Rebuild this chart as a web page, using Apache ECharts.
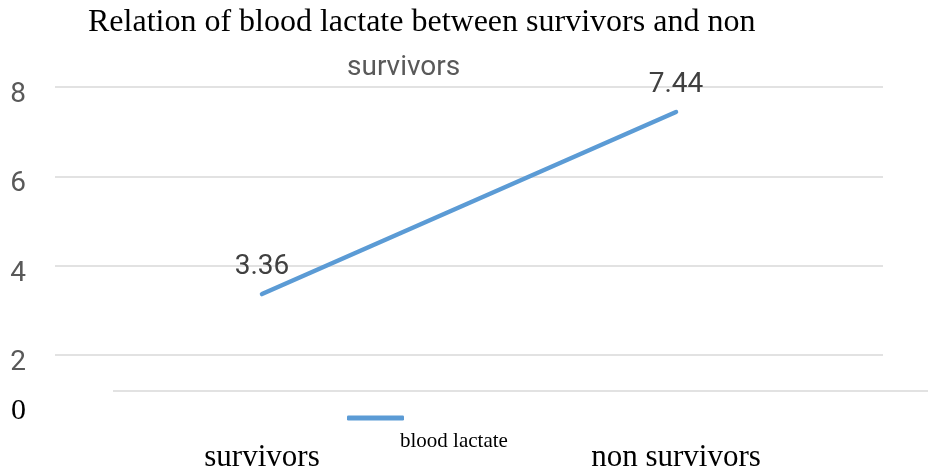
<!DOCTYPE html>
<html>
<head>
<meta charset="utf-8">
<script src="https://cdn.jsdelivr.net/npm/echarts@6/dist/echarts.min.js"></script>
<style>
  html, body { margin: 0; padding: 0; background: #fff; }
  #chart { width: 928px; height: 470px; }
</style>
</head>
<body>
<div id="chart"></div>
<script>
// values
const categories = ["survivors", "non survivors"];
const bloodLactate = [3.36, 7.44];
const seriesName = "blood lactate";

const serif = '"Liberation Serif", "Times New Roman", serif';
const sans = 'Roboto, "Open Sans", sans-serif';

const chart = echarts.init(document.getElementById("chart"));

chart.setOption({
  animation: false,
  title: [
    {
      text: "Relation of blood lactate between survivors and non",
      left: 88,
      top: 7,
      padding: 0,
      textStyle: { fontFamily: serif, fontSize: 32, fontWeight: "normal", color: "#000" },
    },
    {
      text: "survivors",
      left: 347,
      top: 54,
      padding: 0,
      textStyle: { fontFamily: sans, fontSize: 28, fontWeight: "normal", color: "#595959" },
    },
  ],
  legend: {
    data: [seriesName],
    left: 347,
    top: 372,
    padding: 0,
    icon: "roundRect",
    itemWidth: 57,
    itemHeight: 5,
    // text sits under the swatch in the original, so push it down a line
    formatter: (name) => "\n" + name,
    textStyle: { fontFamily: serif, fontSize: 21, lineHeight: 46, color: "#000", padding: [0, 0, 0, -9] },
  },
  // labels run off the bottom edge in the original, don't let the grid shrink for them
  grid: { left: 55, right: 45, top: 87, bottom: 26, outerBoundsMode: "none" },
  xAxis: {
    type: "category",
    data: categories,
    axisLine: { show: false },
    axisTick: { show: false },
    axisLabel: {
      margin: 14,
      verticalAlign: "middle",
      fontFamily: serif,
      fontSize: 31,
      color: "#000",
    },
  },
  yAxis: {
    type: "value",
    min: 0,
    max: 8,
    interval: 2,
    axisLine: { show: false },
    axisTick: { show: false },
    splitLine: { showMinLine: false, lineStyle: { color: "#d9d9d9", width: 1.5 } },
    axisLabel: {
      margin: 29,
      formatter: (v) => (v === 0 ? "{z|0}" : "{n|" + v + "}"),
      rich: {
        n: { fontFamily: sans, fontSize: 28, color: "#595959", padding: [16, 0, 0, 0] },
        z: { fontFamily: serif, fontSize: 30, color: "#000", padding: [0, 0, 65, 0] },
      },
    },
  },
  // the loose axis line the original draws above the legend
  graphic: [
    {
      type: "line",
      shape: { x1: 113, y1: 391, x2: 928, y2: 391 },
      style: { stroke: "#d9d9d9", lineWidth: 1.5 },
    },
  ],
  series: [
    {
      name: seriesName,
      type: "line",
      data: bloodLactate,
      symbol: "circle",
      symbolSize: 0.1,
      color: "#5b9bd5",
      lineStyle: { width: 4.5, cap: "round" },
      label: {
        show: true,
        position: "top",
        distance: 13,
        fontFamily: sans,
        fontSize: 28,
        color: "#404040",
      },
    },
  ],
});
</script>
</body>
</html>
